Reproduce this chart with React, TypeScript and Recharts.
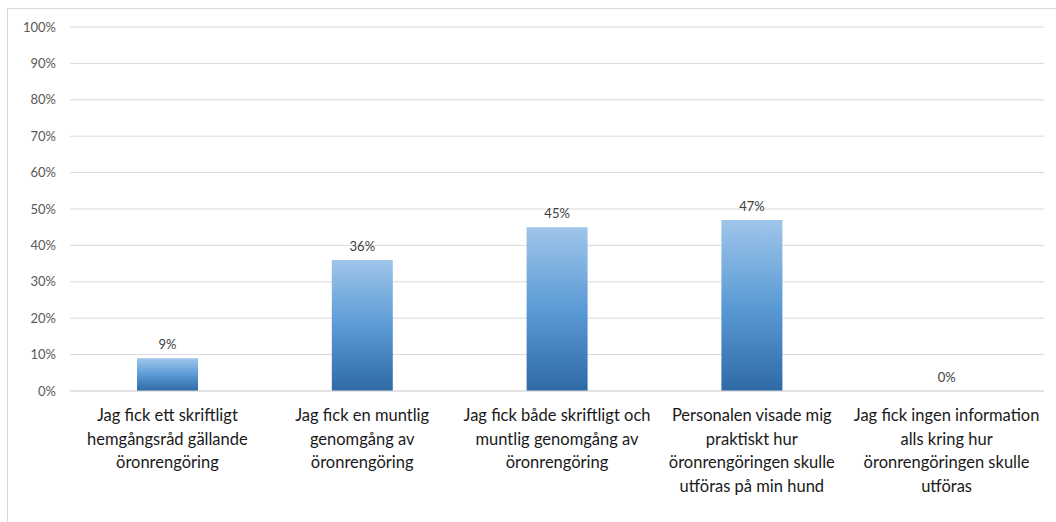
import { Bar, BarChart, CartesianGrid, LabelList, XAxis, YAxis } from "recharts"

const categories = [
  "Jag fick ett skriftligt\nhemgångsråd gällande\nöronrengöring",
  "Jag fick en muntlig\ngenomgång av\nöronrengöring",
  "Jag fick både skriftligt och\nmuntlig genomgång av\nöronrengöring",
  "Personalen visade mig\npraktiskt hur\nöronrengöringen skulle\nutföras på min hund",
  "Jag fick ingen information\nalls kring hur\nöronrengöringen skulle\nutföras",
]
const shares = [9, 36, 45, 47, 0]
const yTicks = [0, 10, 20, 30, 40, 50, 60, 70, 80, 90, 100]

const data = categories.map((name, i) => ({ name, value: shares[i] }))

const font = "Lato, 'Open Sans', sans-serif"

function CategoryTick(props: any) {
  const { x, y, payload } = props
  const lines = String(payload.value).split("\n")
  return (
    <text x={x} y={y} textAnchor="middle" fill="#1a1a1a" fontSize={16.5} fontFamily={font}>
      {lines.map((line: string, i: number) => (
        <tspan key={i} x={x} dy={i === 0 ? 22 : 23.5}>
          {line}
        </tspan>
      ))}
    </text>
  )
}

export default function App() {
  return (
    <div style={{ position: "absolute", left: 0, top: 0, width: 1056, height: 522, overflow: "hidden", background: "#fff" }}>
      <div
        style={{
          position: "absolute",
          left: 7,
          top: 8,
          width: 1060,
          height: 530,
          border: "1px solid #d9d9d9",
          boxSizing: "border-box",
        }}
      />
      <div style={{ position: "absolute", left: 0, top: 0 }}>
        <BarChart width={1056} height={522} data={data} margin={{ top: 27, right: 12, left: 0, bottom: 0 }}>
          <defs>
            <linearGradient id="barFill" x1="0" y1="0" x2="0" y2="1">
              <stop offset="0%" stopColor="#9fc5ea" />
              <stop offset="50%" stopColor="#5b9bd5" />
              <stop offset="100%" stopColor="#2e6aa6" />
            </linearGradient>
          </defs>
          <CartesianGrid vertical={false} stroke="#d9d9d9" />
          <XAxis
            dataKey="name"
            interval={0}
            tickLine={false}
            axisLine={{ stroke: "#d9d9d9" }}
            tick={<CategoryTick />}
            height={131}
          />
          <YAxis
            width={70}
            domain={[0, 100]}
            ticks={yTicks}
            tickFormatter={(v: number) => `${v}%`}
            tickLine={false}
            axisLine={false}
            tickMargin={8}
            tick={{ fill: "#595959", fontSize: 13, fontFamily: font }}
          />
          <Bar
            dataKey="value"
            fill="url(#barFill)"
            barSize={61}
            minPointSize={(v: number) => (v === 0 ? 0.01 : 0)}
            isAnimationActive={false}
          >
            <LabelList
              dataKey="value"
              position="top"
              offset={9}
              formatter={(v: any) => `${v}%`}
              style={{ fill: "#404040", fontSize: 13, fontFamily: font }}
            />
          </Bar>
        </BarChart>
      </div>
    </div>
  )
}
